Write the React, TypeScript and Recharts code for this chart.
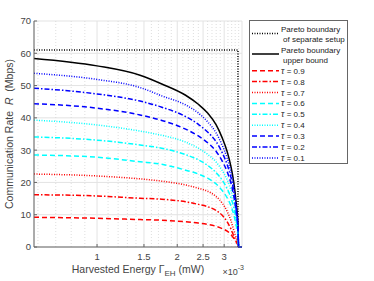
import { LineChart, Line, XAxis, YAxis, CartesianGrid, ReferenceLine, Legend } from "recharts";

// harvested energy (x 1e-3 mW), shared by all curves
const energy = [0.58, 1.0, 1.45, 1.75, 2.15, 2.4, 2.6, 2.8, 2.95, 3.08, 3.18, 3.26, 3.33, 3.38, 3.4, 3.5];

const upperBound = [58.4, 56.1, 53.2, 50.5, 47.0, 44.2, 41.5, 37.8, 33.8, 29.5, 25.0, 20.0, 13.5, 7.0, 0, 0];
const tau01 = [53.8, 51.9, 49.4, 46.8, 44.0, 41.5, 38.8, 35.3, 31.5, 27.5, 23.3, 18.6, 12.5, 6.5, 0, 0];
const tau02 = [49.2, 47.4, 45.2, 43.3, 40.4, 38.0, 35.6, 32.6, 29.2, 25.5, 21.6, 17.2, 11.5, 6.0, 0, 0];
const tau03 = [44.4, 43.0, 40.9, 39.2, 36.5, 34.4, 32.3, 29.6, 26.6, 23.3, 19.8, 15.8, 10.7, 5.5, 0, 0];
const tau04 = [39.3, 37.8, 35.9, 34.6, 32.5, 30.6, 28.7, 26.3, 23.7, 20.8, 17.7, 14.2, 9.6, 5.0, 0, 0];
const tau05 = [34.1, 33.1, 31.6, 30.6, 28.6, 27.0, 25.3, 23.0, 20.7, 18.0, 15.3, 12.2, 8.2, 4.3, 0, 0];
const tau06 = [28.5, 27.8, 26.4, 25.6, 23.8, 22.6, 21.3, 19.5, 17.5, 15.2, 12.8, 10.0, 6.6, 3.4, 0, 0];
const tau07 = [22.6, 22.0, 21.1, 20.4, 19.2, 18.2, 17.3, 15.6, 13.6, 11.0, 8.2, 5.2, 2.8, 1.2, 0, 0];
const tau08 = [16.2, 15.8, 15.1, 14.8, 14.0, 13.2, 12.5, 11.3, 9.8, 7.8, 5.6, 3.4, 1.8, 0.8, 0, 0];
const tau09 = [9.2, 8.9, 8.5, 8.3, 7.8, 7.4, 7.0, 6.4, 5.7, 4.9, 3.9, 2.7, 1.5, 0.6, 0, 0];

// separate setup boundary (rectangle corner)
const sepEnergy = [0.58, 3.38, 3.38];
const sepRate = [61, 61, 0];

const xTicks = [1, 1.5, 2, 2.5, 3];
const yTicks = [0, 10, 20, 30, 40, 50, 60, 70];
const xMinor = [0.6, 0.7, 0.8, 0.9, 1.1, 1.2, 1.3, 1.4, 1.6, 1.7, 1.8, 1.9, 2.1, 2.2, 2.3, 2.4, 2.6, 2.7, 2.8, 2.9, 3.1, 3.2, 3.3, 3.4];

const RED = "#ff0000";
const CYAN = "#00ffff";
const BLUE = "#0000ff";
const DASH = "5 3";
const DOT = "1 1.5";
const DASHDOT = "5 2 1.5 2";

const series = [
  { key: "t09", label: "0.9", values: tau09, color: RED, dash: DASH },
  { key: "t08", label: "0.8", values: tau08, color: RED, dash: DASHDOT },
  { key: "t07", label: "0.7", values: tau07, color: RED, dash: DOT },
  { key: "t06", label: "0.6", values: tau06, color: CYAN, dash: DASH },
  { key: "t05", label: "0.5", values: tau05, color: CYAN, dash: DASHDOT },
  { key: "t04", label: "0.4", values: tau04, color: CYAN, dash: DOT },
  { key: "t03", label: "0.3", values: tau03, color: BLUE, dash: DASH },
  { key: "t02", label: "0.2", values: tau02, color: BLUE, dash: DASHDOT },
  { key: "t01", label: "0.1", values: tau01, color: BLUE, dash: DOT },
];

const rows = energy.map((e, i) => {
  const r: Record<string, number> = { e, upper: upperBound[i] };
  series.forEach((s) => (r[s.key] = s.values[i]));
  return r;
});
const sepRows = sepEnergy.map((e, i) => ({ e, sep: sepRate[i] }));

const FONT = "'Liberation Sans', Arial, sans-serif";
const AX = "#666";
const TXT = "#444";

function YLabel({ viewBox }: any) {
  const cx = 9;
  const cy = viewBox.y + viewBox.height / 2;
  return (
    <text x={cx} y={cy} transform={`rotate(-90 ${cx} ${cy})`} textAnchor="middle" dominantBaseline="central" fontSize={10.5} fill={TXT} fontFamily={FONT} style={{ whiteSpace: "pre" }}>
      {"Communication Rate  "}
      <tspan fontStyle="italic">R</tspan>
      {"  (Mbps)"}
    </text>
  );
}

function XLabel({ viewBox }: any) {
  const cx = viewBox.x + viewBox.width / 2;
  const right = viewBox.x + viewBox.width;
  return (
    <g fontFamily={FONT} fill={TXT}>
      <text x={cx} y={272.5} textAnchor="middle" fontSize={10.5}>
        Harvested Energy Γ<tspan fontSize={8} dy={3}>EH</tspan>
        <tspan dy={-3}> (mW)</tspan>
      </text>
      <text x={right + 2} y={275} textAnchor="end" fontSize={9}>
        ×10<tspan fontSize={7} dy={-5}>-3</tspan>
      </text>
    </g>
  );
}

function LegendBox() {
  const tauY = (k: number) => 49.7 + 10.9 * k;
  return (
    <div style={{ width: 99, height: 144, border: `1px solid ${AX}`, background: "#fff", boxSizing: "border-box" }}>
      <svg width={97} height={142} style={{ display: "block" }} fontFamily={FONT} fontSize={8} fill="#222">
        <line x1={2} x2={29} y1={12.5} y2={12.5} stroke="#000" strokeWidth={1.5} strokeDasharray={DOT} />
        <text x={31} y={11}>Pareto boundary</text>
        <text x={33} y={21.3}>of separate setup</text>
        <line x1={2} x2={29} y1={33} y2={33} stroke="#000" strokeWidth={1.5} />
        <text x={31} y={32}>Pareto boundary</text>
        <text x={33} y={42.3}>upper bound</text>
        {series.map((s, k) => (
          <g key={s.key}>
            <line x1={2} x2={29} y1={tauY(k)} y2={tauY(k)} stroke={s.color} strokeWidth={1.5} strokeDasharray={s.dash} />
            <text x={31} y={tauY(k) + 3}>
              <tspan fontStyle="italic" fontFamily="'Liberation Serif', serif" fontSize={9.5}>τ</tspan> = {s.label}
            </text>
          </g>
        ))}
      </svg>
    </div>
  );
}

export default function App() {
  return (
    <div style={{ position: "absolute", left: 0, top: 0, width: 374, height: 281, background: "#fff" }}>
      <LineChart width={374} height={281} data={rows} margin={{ top: 21, right: 132, bottom: 0, left: 0 }}>
        <CartesianGrid stroke="#e3e3e3" />
        {xMinor.map((v) => (
          <ReferenceLine key={v} x={v} stroke="#d6d6d6" strokeDasharray="1 2" strokeWidth={0.8} />
        ))}
        <XAxis
          dataKey="e"
          type="number"
          scale="log"
          domain={[0.58, 3.5]}
          allowDataOverflow
          ticks={xTicks}
          height={34}
          tickSize={-3}
          tickMargin={9}
          stroke={AX}
          tick={{ fill: TXT, fontSize: 9.5, fontFamily: FONT }}
          label={<XLabel />}
        />
        <XAxis xAxisId="top" orientation="top" dataKey="e" type="number" scale="log" domain={[0.58, 3.5]} allowDataOverflow ticks={xTicks} height={0} tickSize={-3} tick={false} stroke={AX} />
        <YAxis
          domain={[0, 70]}
          ticks={yTicks}
          width={34}
          tickSize={-3}
          tickMargin={6}
          stroke={AX}
          tick={{ fill: TXT, fontSize: 9.5, fontFamily: FONT }}
          label={<YLabel />}
        />
        <YAxis yAxisId="right" orientation="right" domain={[0, 70]} ticks={yTicks} width={0} tickSize={-3} tick={false} stroke={AX} />
        <Legend layout="vertical" align="center" verticalAlign="middle" content={() => <LegendBox />} wrapperStyle={{ position: "absolute", left: 249, top: 20, width: 99, height: 144 }} />
        <Line data={sepRows} dataKey="sep" type="linear" stroke="#000" strokeWidth={1.5} strokeDasharray={DOT} dot={false} isAnimationActive={false} legendType="none" />
        <Line dataKey="upper" type="monotone" stroke="#000" strokeWidth={1.5} dot={false} isAnimationActive={false} />
        {series.map((s) => (
          <Line key={s.key} dataKey={s.key} type="monotone" stroke={s.color} strokeWidth={1.5} strokeDasharray={s.dash} dot={false} isAnimationActive={false} />
        ))}
      </LineChart>
    </div>
  );
}
